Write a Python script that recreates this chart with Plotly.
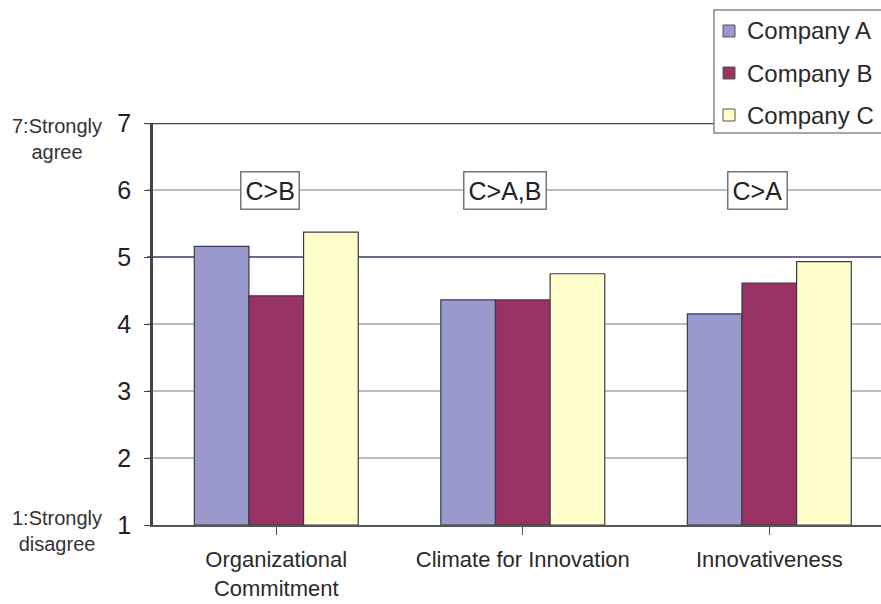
import plotly.graph_objects as go

categories = ["Organizational<br>Commitment", "Climate for Innovation", "Innovativeness"]
companies = ["Company A", "Company B", "Company C"]
values_a = [5.16, 4.36, 4.15]
values_b = [4.42, 4.36, 4.61]
values_c = [5.37, 4.75, 4.93]
comparisons = ["C>B", "C>A,B", "C>A"]
y_ticks = [1, 2, 3, 4, 5, 6, 7]

colors = ["#9999CC", "#993366", "#FFFFCC"]
series = [values_a, values_b, values_c]
comp_offsets = [-0.025, -0.073, -0.05]  # style: horizontal nudge of comparison boxes

W, H = 881, 604
L, R, T, B = 153, 0, 123, 79
PW = W - L - R
PH = H - T - B

def px(x):
    return (x - L) / PW

def py(y):
    return (H - B - y) / PH

FONT = "Liberation Sans, Arial, sans-serif"

fig = go.Figure()
for name, vals, col in zip(companies, series, colors):
    fig.add_trace(go.Bar(
        x=list(range(len(categories))), y=[v - 1 for v in vals], base=1,
        name=name, marker=dict(color=col, line=dict(color="#3a3a4a", width=1.2)),
        showlegend=False,
    ))

shapes = []
for v in y_ticks[1:]:
    if v == 7:
        c, w = "#444444", 2.5
    elif v == 5:
        c, w = "#3a3a6e", 1.5
    else:
        c, w = "#7a7a7a", 1.2
    shapes.append(dict(type="line", xref="paper", yref="y", x0=-0.008, x1=1, y0=v, y1=v,
                       line=dict(color=c, width=w), layer="below"))

# legend box
lx0, ly0, lx1, ly1 = 714, 10, 895, 133
shapes.append(dict(type="rect", xref="paper", yref="paper", x0=px(lx0), x1=px(lx1),
                   y0=py(ly1), y1=py(ly0), line=dict(color="#888888", width=1.5),
                   fillcolor="white"))
annotations = []
legend_y = [31, 73, 115]
for name, col, yy in zip(companies, colors, legend_y):
    shapes.append(dict(type="rect", xref="paper", yref="paper", x0=px(723), x1=px(735),
                       y0=py(yy + 6), y1=py(yy - 6), line=dict(color="#555555", width=1),
                       fillcolor=col))
    annotations.append(dict(text=name, xref="paper", yref="paper", x=px(745), y=py(yy),
                            xanchor="left", yanchor="middle", showarrow=False,
                            font=dict(size=24, color="#2a2a2a", family=FONT)))

for i, (txt, off) in enumerate(zip(comparisons, comp_offsets)):
    annotations.append(dict(text=txt, x=i + off, y=6, xref="x", yref="y", showarrow=False,
                            font=dict(size=25, color="#222222", family=FONT),
                            bgcolor="white", bordercolor="#777777", borderwidth=1.5,
                            borderpad=4))

annotations.append(dict(text="7:Strongly<br>agree", xref="paper", yref="paper",
                        x=px(57), y=py(113), xanchor="center", yanchor="top",
                        showarrow=False, align="center",
                        font=dict(size=20, color="#333333", family=FONT)))
annotations.append(dict(text="1:Strongly<br>disagree", xref="paper", yref="paper",
                        x=px(57), y=py(505), xanchor="center", yanchor="top",
                        showarrow=False, align="center",
                        font=dict(size=20, color="#333333", family=FONT)))

fig.update_layout(
    width=W, height=H,
    margin=dict(l=L, r=R, t=T, b=B, pad=0, autoexpand=False),
    paper_bgcolor="white", plot_bgcolor="white",
    barmode="group", bargap=0.335, bargroupgap=0,
    shapes=shapes, annotations=annotations,
    font=dict(family=FONT),
)
fig.update_xaxes(
    tickmode="array", tickvals=list(range(len(categories))), ticktext=categories,
    range=[-0.5, 2.453], showgrid=False, showline=True, linecolor="#555555", linewidth=2,
    ticks="outside", ticklen=8, tickcolor="#555555", tickson="boundaries",
    tickfont=dict(size=22, color="#2a2a2a", family=FONT), zeroline=False,
    ticklabelstandoff=6, automargin=False,
)
fig.update_yaxes(
    range=[1, 7], tickvals=y_ticks, showgrid=False, showline=True,
    linecolor="#444444", linewidth=2.5, ticks="outside", ticklen=6, tickcolor="#444444",
    tickfont=dict(size=25, color="#222222", family=FONT), zeroline=False,
    ticklabelstandoff=8, automargin=False,
)

fig.write_html("out.html")
